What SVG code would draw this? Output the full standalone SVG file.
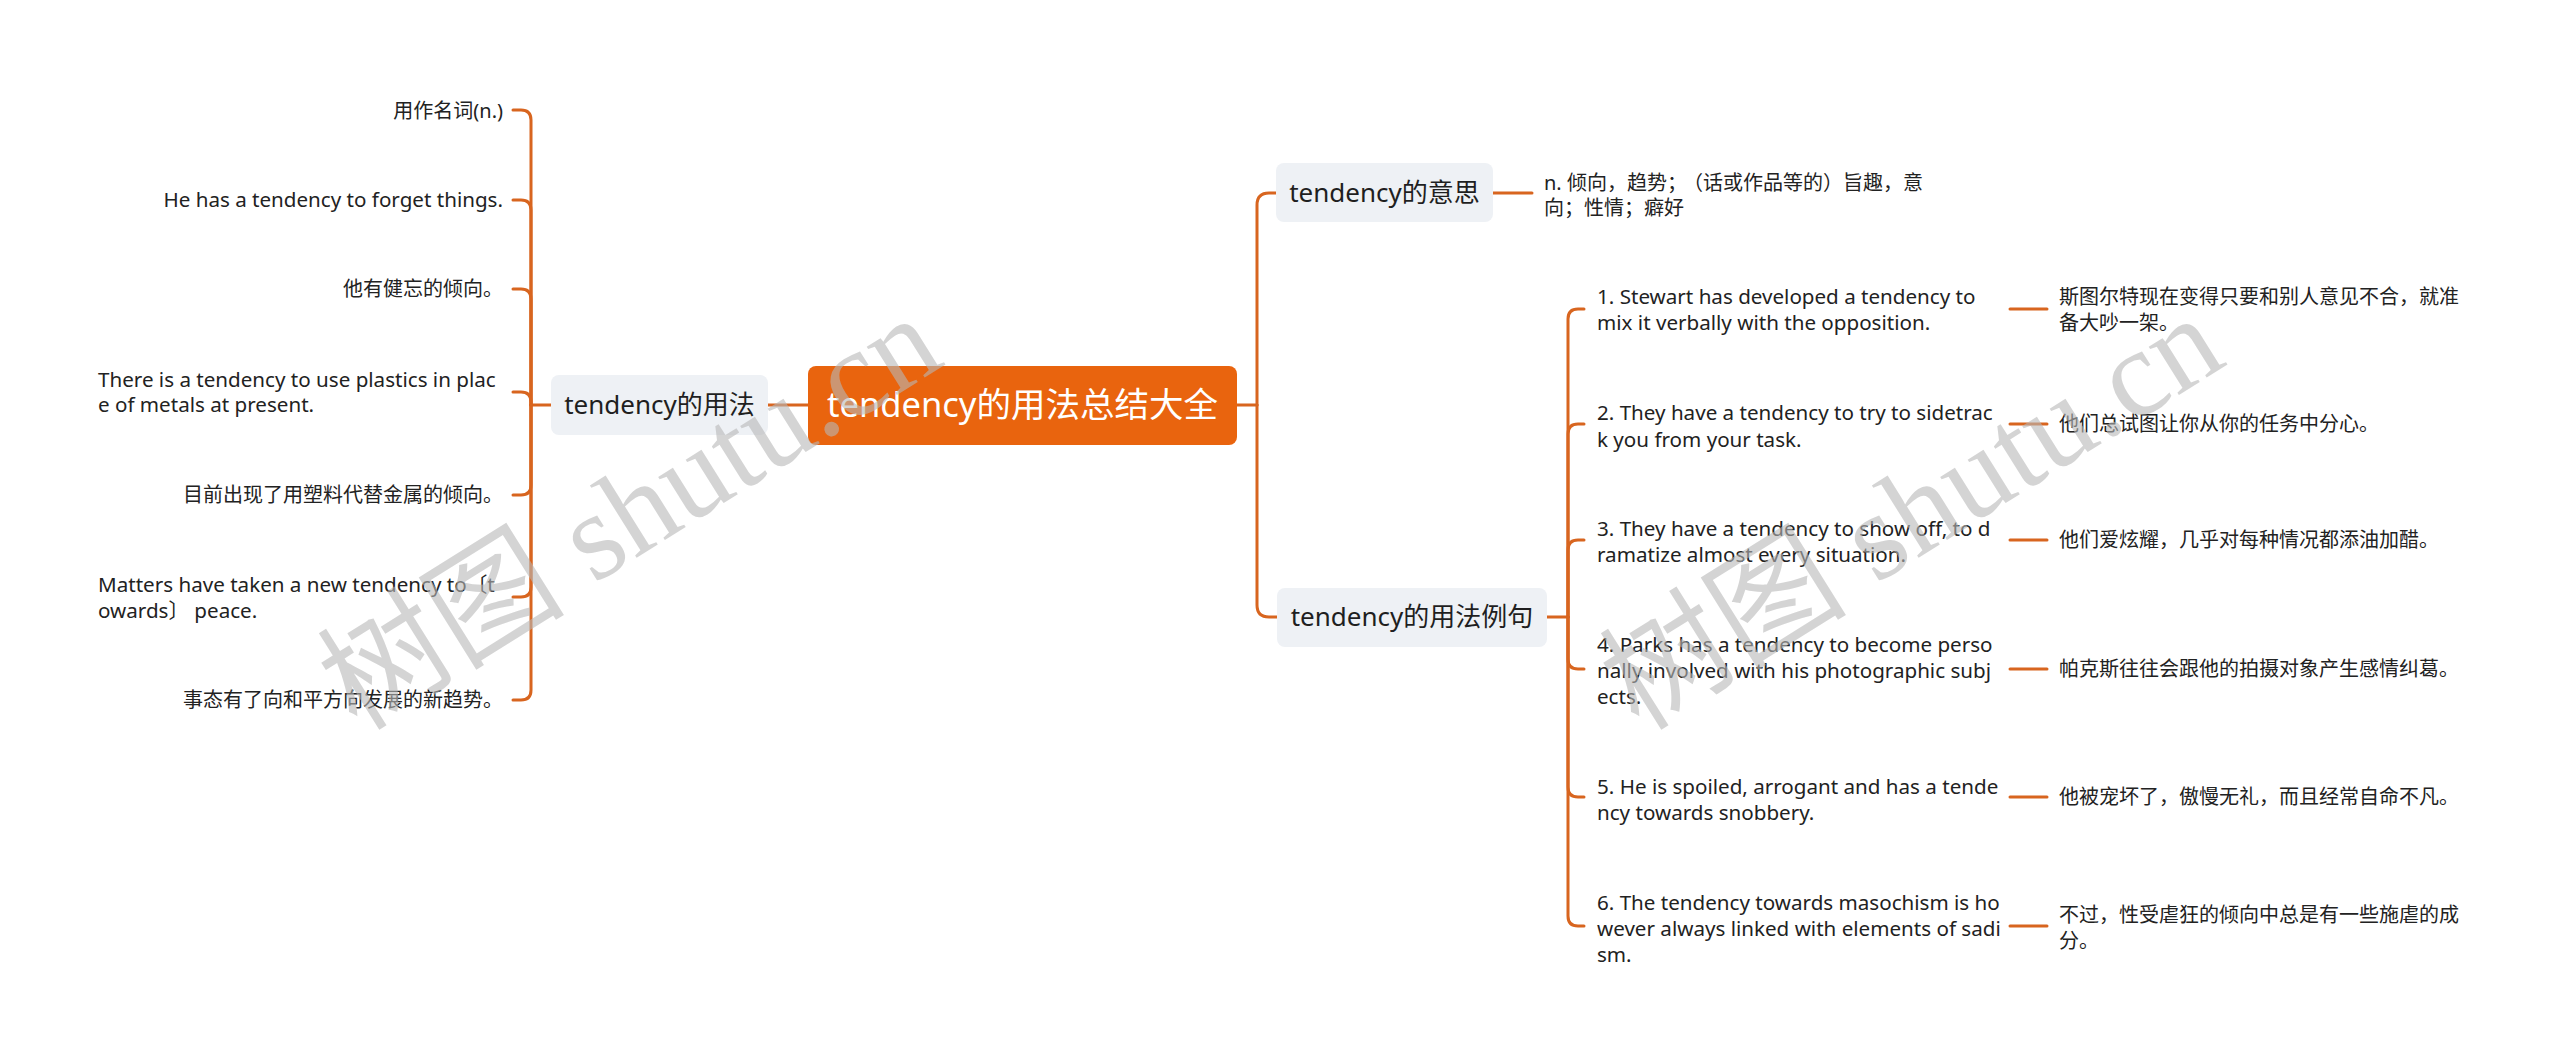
<svg xmlns="http://www.w3.org/2000/svg" width="2560" height="1063" viewBox="0 0 2560 1063">
<style>
.bg{fill:#ffffff}
.line{fill:none;stroke:#D8651F;stroke-width:3;stroke-linecap:round}
.root{fill:#E9640E}
.sub{fill:#EEF1F5}
.rt{font-family:"Noto Sans","Noto Sans CJK SC",sans-serif;font-size:34.5px;fill:#ffffff;text-anchor:middle}
.st{font-family:"Noto Sans","Noto Sans CJK SC",sans-serif;font-size:26px;fill:#1f1f1f;text-anchor:middle}
.lt{font-family:"Noto Sans","Noto Sans CJK SC",sans-serif;font-size:20px;fill:#222222}
.en{font-size:20.6px}
.r{text-anchor:end}
.wm{font-family:"Liberation Serif","Noto Sans CJK SC",serif;font-size:124px;fill:#b8b8b8;fill-opacity:0.6;text-anchor:middle}
</style>
<rect class="bg" x="0" y="0" width="2560" height="1063"/>
<g id="connectors">
<path class="line" d="M808,405 H768"/>
<path class="line" d="M551,405 H531"/>
<path class="line" d="M531,405 V120 Q531,110 521,110 H513"/>
<path class="line" d="M531,405 V210 Q531,200 521,200 H513"/>
<path class="line" d="M531,405 V299 Q531,289 521,289 H513"/>
<path class="line" d="M531,405 V402 Q531,392 521,392 H513"/>
<path class="line" d="M531,405 V485 Q531,495 521,495 H513"/>
<path class="line" d="M531,405 V587 Q531,597 521,597 H513"/>
<path class="line" d="M531,405 V690 Q531,700 521,700 H513"/>
<path class="line" d="M1237,405 H1257"/>
<path class="line" d="M1257,405 V205 Q1257,193 1269,193 H1276"/>
<path class="line" d="M1257,405 V605 Q1257,617 1269,617 H1277"/>
<path class="line" d="M1493,193 H1532"/>
<path class="line" d="M1547,617 H1568"/>
<path class="line" d="M1568,617 V319 Q1568,309 1578,309 H1584"/>
<path class="line" d="M1568,617 V434 Q1568,424 1578,424 H1584"/>
<path class="line" d="M1568,617 V550 Q1568,540 1578,540 H1584"/>
<path class="line" d="M1568,617 V659 Q1568,669 1578,669 H1584"/>
<path class="line" d="M1568,617 V787 Q1568,797 1578,797 H1584"/>
<path class="line" d="M1568,617 V916 Q1568,926 1578,926 H1584"/>
<path class="line" d="M2010,309 H2047"/>
<path class="line" d="M2010,424 H2047"/>
<path class="line" d="M2010,540 H2047"/>
<path class="line" d="M2010,669 H2047"/>
<path class="line" d="M2010,797 H2047"/>
<path class="line" d="M2010,926 H2047"/>
</g>
<g id="root">
<rect class="root" x="808" y="366" width="429" height="79" rx="8"/>
<text class="rt" x="1022.5" y="417">tendency的用法总结大全</text>
</g>
<g id="usage">
<rect class="sub" x="551" y="375" width="217" height="60" rx="8"/>
<text class="st" x="659.5" y="414">tendency的用法</text>
</g>
<g id="meaning">
<rect class="sub" x="1276" y="163" width="217" height="59" rx="8"/>
<text class="st" x="1384.5" y="202">tendency的意思</text>
</g>
<g id="examples">
<rect class="sub" x="1277" y="588" width="270" height="59" rx="8"/>
<text class="st" x="1412" y="626">tendency的用法例句</text>
</g>
<g id="u1"><text class="lt r" x="503" y="118">用作名词(n.)</text></g>
<g id="u2"><text class="lt en r" x="503" y="207">He has a tendency to forget things.</text></g>
<g id="u3"><text class="lt r" x="503" y="296">他有健忘的倾向。</text></g>
<g id="u4"><text class="lt en" x="98" y="387">There is a tendency to use plastics in plac</text><text class="lt en" x="98" y="412">e of metals at present.</text></g>
<g id="u5"><text class="lt r" x="503" y="502">目前出现了用塑料代替金属的倾向。</text></g>
<g id="u6"><text class="lt en" x="98" y="592">Matters have taken a new tendency to〔t</text><text class="lt en" x="98" y="618">owards〕 peace.</text></g>
<g id="u7"><text class="lt r" x="503" y="707">事态有了向和平方向发展的新趋势。</text></g>
<g id="m1"><text class="lt" x="1544" y="190">n. 倾向，趋势；<tspan dx="6">（话或作品等的）旨趣，意</tspan></text><text class="lt" x="1544" y="215">向；性情；癖好</text></g>
<g id="e1"><text class="lt en" x="1597" y="304">1. Stewart has developed a tendency to</text><text class="lt en" x="1597" y="330">mix it verbally with the opposition.</text></g>
<g id="e2"><text class="lt en" x="1597" y="420">2. They have a tendency to try to sidetrac</text><text class="lt en" x="1597" y="447">k you from your task.</text></g>
<g id="e3"><text class="lt en" x="1597" y="536">3. They have a tendency to show off, to d</text><text class="lt en" x="1597" y="562">ramatize almost every situation.</text></g>
<g id="e4"><text class="lt en" x="1597" y="652">4. Parks has a tendency to become perso</text><text class="lt en" x="1597" y="678">nally involved with his photographic subj</text><text class="lt en" x="1597" y="704">ects.</text></g>
<g id="e5"><text class="lt en" x="1597" y="794">5. He is spoiled, arrogant and has a tende</text><text class="lt en" x="1597" y="820">ncy towards snobbery.</text></g>
<g id="e6"><text class="lt en" x="1597" y="910">6. The tendency towards masochism is ho</text><text class="lt en" x="1597" y="936">wever always linked with elements of sadi</text><text class="lt en" x="1597" y="962">sm.</text></g>
<g id="t1"><text class="lt" x="2059" y="304">斯图尔特现在变得只要和别人意见不合，就准</text><text class="lt" x="2059" y="330">备大吵一架。</text></g>
<g id="t2"><text class="lt" x="2059" y="431">他们总试图让你从你的任务中分心。</text></g>
<g id="t3"><text class="lt" x="2059" y="547">他们爱炫耀，几乎对每种情况都添油加醋。</text></g>
<g id="t4"><text class="lt" x="2059" y="676">帕克斯往往会跟他的拍摄对象产生感情纠葛。</text></g>
<g id="t5"><text class="lt" x="2059" y="804">他被宠坏了，傲慢无礼，而且经常自命不凡。</text></g>
<g id="t6"><text class="lt" x="2059" y="922">不过，性受虐狂的倾向中总是有一些施虐的成</text><text class="lt" x="2059" y="948">分。</text></g>
<g id="watermarks">
<text class="wm" transform="translate(652,548) rotate(-32)">树图 shutu.cn</text>
<text class="wm" transform="translate(1934,548) rotate(-32)">树图 shutu.cn</text>
</g>
</svg>
